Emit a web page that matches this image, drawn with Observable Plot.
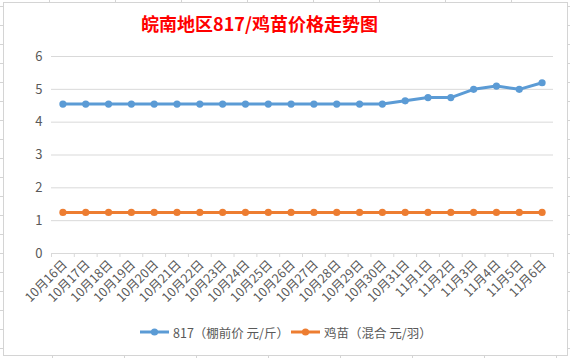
<!DOCTYPE html>
<html>
<head>
<meta charset="utf-8">
<script src="https://cdn.jsdelivr.net/npm/d3@7"></script>
<script src="https://cdn.jsdelivr.net/npm/@observablehq/plot@0.6"></script>
<style>
  html, body { margin: 0; padding: 0; }
  body { width: 570px; height: 358px; position: relative; overflow: hidden; background: #fff;
         font-family: "Noto Sans CJK SC", "Noto Sans", sans-serif; }
  .strip { position: absolute; }
  #topStrip { left: 0; top: 0; width: 570px; height: 3px;
    background: repeating-linear-gradient(to right, transparent 0, transparent 49px, #d4d4d4 49px, #d4d4d4 50px, transparent 50px, transparent 66px); }
  #bottomStrip { left: 0; top: 355px; width: 570px; height: 3px;
    background: repeating-linear-gradient(to right, transparent 0, transparent 52px, #d4d4d4 52px, #d4d4d4 53px, transparent 53px, transparent 72px); }
  #leftStrip { left: 0; top: 0; width: 3px; height: 358px;
    background: repeating-linear-gradient(to bottom, transparent 0, transparent 6px, #d4d4d4 6px, #d4d4d4 7px, transparent 7px, transparent 19px); }
  #rightStrip { left: 567px; top: 0; width: 3px; height: 358px;
    background: repeating-linear-gradient(to bottom, transparent 0, transparent 6px, #d4d4d4 6px, #d4d4d4 7px, transparent 7px, transparent 19px); }
  #box { position: absolute; left: 3px; top: 2px; width: 563px; height: 352px; border: 1px solid #d4d4d4; background: #fff; box-sizing: content-box; }
  #title { position: absolute; left: 0; top: 11px; width: 519px; text-align: center;
    color: #ff0000; font-weight: bold; font-size: 18px; line-height: 24px; white-space: nowrap; }
  #plot { position: absolute; left: 0; top: 40px; }
  #legend { position: absolute; left: 0; top: 322px; width: 570px; height: 20px; }
  .item { position: absolute; top: 0; display: flex; align-items: center; height: 20px;
    font-size: 12.5px; color: #595959; white-space: nowrap; }
  .item svg { margin-right: 4px; }
</style>
</head>
<body>
<div class="strip" id="topStrip"></div>
<div class="strip" id="bottomStrip"></div>
<div class="strip" id="leftStrip"></div>
<div class="strip" id="rightStrip"></div>
<div id="box"></div>
<div id="title"></div>
<div id="plot"></div>
<div id="legend"></div>
<script>
const titleText = "皖南地区817/鸡苗价格走势图";
const dates = ["10月16日","10月17日","10月18日","10月19日","10月20日","10月21日","10月22日","10月23日",
  "10月24日","10月25日","10月26日","10月27日","10月28日","10月29日","10月30日","10月31日",
  "11月1日","11月2日","11月3日","11月4日","11月5日","11月6日"];
const price817 = [4.55,4.55,4.55,4.55,4.55,4.55,4.55,4.55,4.55,4.55,4.55,4.55,4.55,4.55,4.55,4.65,
  4.75,4.75,5.0,5.1,5.0,5.2];
const chickPrice = [1.25,1.25,1.25,1.25,1.25,1.25,1.25,1.25,1.25,1.25,1.25,1.25,1.25,1.25,1.25,1.25,
  1.25,1.25,1.25,1.25,1.25,1.25];
const seriesNames = ["817（棚前价 元/斤）", "鸡苗（混合 元/羽）"];
const colors = ["#5B9BD5", "#ED7D31"];
const yTicks = [0, 1, 2, 3, 4, 5, 6];

document.getElementById("title").textContent = titleText;

const rows = [];
dates.forEach((d, i) => {
  rows.push({i, date: d, value: price817[i], series: seriesNames[0]});
  rows.push({i, date: d, value: chickPrice[i], series: seriesNames[1]});
});
const idx = dates.map((d, i) => i);
const bounds = dates.map((d, i) => i - 0.5).concat([dates.length - 0.5]);

const chart = Plot.plot({
  width: 570,
  height: 275,
  marginLeft: 51,
  marginRight: 17,
  marginTop: 16,
  marginBottom: 62,
  style: {fontFamily: '"Noto Sans CJK SC", "Noto Sans", sans-serif', fontSize: "12px", color: "#595959", background: "transparent"},
  x: {type: "linear", domain: [-0.5, dates.length - 0.5]},
  y: {domain: [0, 6]},
  color: {domain: seriesNames, range: colors},
  marks: [
    Plot.gridY(yTicks.filter(t => t > 0), {stroke: "#d9d9d9", strokeOpacity: 1}),
    Plot.axisY(yTicks, {tickSize: 0, tickPadding: 9, label: null, fontSize: 13, fill: "#595959"}),
    Plot.ruleY([0], {stroke: "#d9d9d9"}),
    Plot.axisX(bounds, {tickSize: 4, stroke: "#d9d9d9", tickFormat: () => "", label: null}),
    Plot.axisX(idx, {tickSize: 0, tickPadding: 9, dx: 2, tickRotate: -45, tickFormat: i => dates[i], label: null, fontSize: 12.5, fill: "#595959"}),
    Plot.line(rows, {x: "i", y: "value", z: "series", stroke: "series", strokeWidth: 3}),
    Plot.dot(rows, {x: "i", y: "value", fill: "series", r: 3.6, stroke: "none"})
  ]
});
document.getElementById("plot").appendChild(chart);

// legend
const legend = document.getElementById("legend");
const lefts = [140, 291];
seriesNames.forEach((name, k) => {
  const item = document.createElement("div");
  item.className = "item";
  item.style.left = lefts[k] + "px";
  item.innerHTML = `<svg width="29" height="10"><line x1="0" x2="29" y1="5" y2="5" stroke="${colors[k]}" stroke-width="3"/><circle cx="14.5" cy="5" r="3.6" fill="${colors[k]}"/></svg><span></span>`;
  item.querySelector("span").textContent = name;
  legend.appendChild(item);
});
</script>
</body>
</html>
